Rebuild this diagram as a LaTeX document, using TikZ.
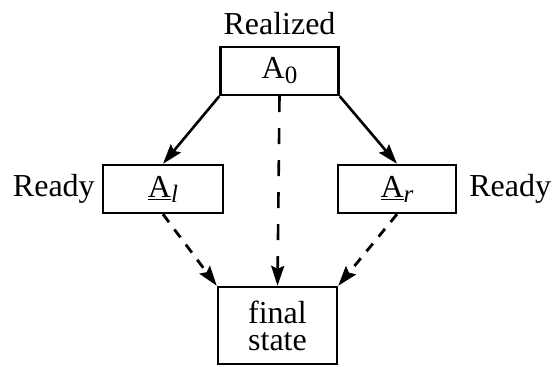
\documentclass[tikz,border=0pt]{standalone}
\usepackage{fontspec}
\setmainfont{Liberation Serif}
\usepackage{tikz}
\usetikzlibrary{positioning,arrows.meta}

\newcommand{\lowidx}[1]{\raisebox{-2.5pt}{\fontsize{12.5}{12.5}\selectfont #1}}

\tikzset{
	statebox/.style={draw, line width=1.2pt, inner sep=0pt, minimum width=59pt, minimum height=24pt, align=center},
	solidarrow/.style={line width=1.3pt, -{Stealth[length=10pt,width=6.5pt,inset=1.5pt]}},
	longdash/.style={solidarrow, dash pattern=on 8pt off 8pt},
	shortdash/.style={solidarrow, line width=1.4pt, dash pattern=on 5pt off 4.5pt}
}

\begin{document}
\begin{tikzpicture}[x=0.5pt, y=-0.5pt, font=\fontsize{16}{13.5}\selectfont]
	\useasboundingbox (0,0) rectangle (554,366);
	\node[statebox] (a0) at (279.5,71) {A\lowidx{0}};
	\node[statebox, minimum width=60pt] (al) at (163,189) {\underline{A}\lowidx{\itshape l}};
	\node[statebox] (ar) at (397,189) {\underline{A}\lowidx{\itshape r}};
	\node[statebox, minimum height=38.5pt, minimum width=59.5pt] (final) at (277.5,325.5) {final\\state};
	\node[above=2pt of a0] (realized) {Realized};
	\node[left=0pt of al] (readyl) {Ready};
	\node[right=2.5pt of ar] (readyr) {Ready};
	\draw[solidarrow] (a0.south west) -- (al.north);
	\draw[solidarrow] (a0.south east) -- (ar.north);
	\draw[longdash] (a0.south) -- (final.north);
	\draw[shortdash] (al.south) -- (final.north west);
	\draw[shortdash] (ar.south) -- (final.north east);
\end{tikzpicture}
\end{document}
